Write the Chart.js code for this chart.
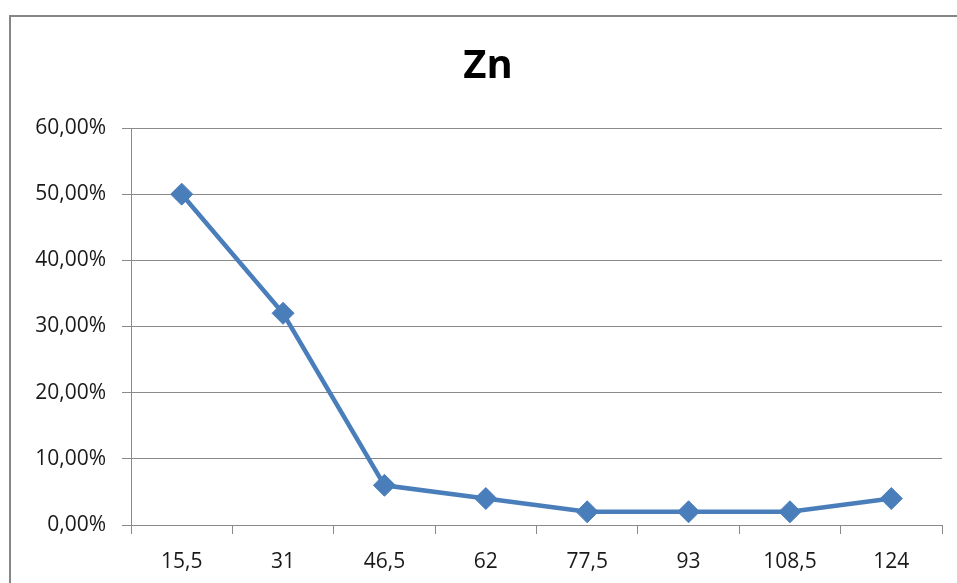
<!DOCTYPE html>
<html>
<head>
<meta charset="utf-8">
<script src="https://cdn.jsdelivr.net/npm/chart.js@4.4.0/dist/chart.umd.min.js"></script>
<style>
    html, body { margin: 0; padding: 0; background: #fff; overflow: hidden; }
    #frame {
        position: absolute; left: 9px; top: 15px;
        width: 1000px; height: 700px;
        border-top: 2px solid #868686; border-left: 2px solid #868686;
    }
    #wrap { position: absolute; left: 0; top: 0; width: 957px; height: 583px; }
</style>
</head>
<body>
<div id="frame"></div>
<div id="wrap"><canvas id="lineChart"></canvas></div>
<script>
// chart data
var chartTitle = 'Zn';
var categories = ['15,5', '31', '46,5', '62', '77,5', '93', '108,5', '124'];
var zincValues = [50, 32, 6, 4, 2, 2, 2, 4];
var yTicks = [0, 10, 20, 30, 40, 50, 60];

var blue = '#4a7ebb';
var gray = '#8a8a8a';
var labelFont = { family: "'Open Sans', sans-serif", size: 21, lineHeight: 1.0 };

function formatPercent(v) {
    return v.toFixed(2).replace('.', ',') + '%';
}

// title drawn by hand so it sits where the original puts it
var titlePlugin = {
    id: 'titleText',
    afterDraw: function (chart) {
        var c = chart.ctx;
        c.save();
        c.font = "bold 40px 'Open Sans', sans-serif";
        c.fillStyle = '#000';
        c.textAlign = 'center';
        c.textBaseline = 'middle';
        c.fillText(chartTitle, 488, 67);
        c.restore();
    }
};

var ctx = document.getElementById('lineChart').getContext('2d');
var myChart = new Chart(ctx, {
    type: 'line',
    data: {
        labels: categories,
        datasets: [{
            label: chartTitle,
            data: zincValues,
            borderColor: blue,
            backgroundColor: blue,
            borderWidth: 4.5,
            pointStyle: 'rectRot',
            pointRadius: 11,
            pointBorderWidth: 1,
            pointBackgroundColor: blue,
            pointBorderColor: blue,
            tension: 0
        }]
    },
    plugins: [titlePlugin],
    options: {
        responsive: true,
        maintainAspectRatio: false,
        animation: false,
        layout: {
            padding: { left: 0, right: 15, top: 128, bottom: 0 }
        },
        plugins: {
            legend: { display: false },
            tooltip: { enabled: false },
            title: { display: false }
        },
        scales: {
            x: {
                offset: true,
                afterFit: function (scale) { scale.height = 58; },
                grid: {
                    offset: true,
                    drawOnChartArea: false,
                    drawTicks: true,
                    tickLength: 9,
                    color: gray
                },
                border: { color: gray, width: 1 },
                ticks: {
                    color: '#1a1a1a',
                    font: labelFont,
                    padding: 18,
                    maxRotation: 0,
                    autoSkip: false
                }
            },
            y: {
                min: 0,
                max: 60,
                afterFit: function (scale) { scale.width = 131; },
                afterBuildTicks: function (scale) {
                    scale.ticks = yTicks.map(function (v) { return { value: v }; });
                },
                grid: {
                    color: gray,
                    tickLength: 9,
                    drawTicks: true
                },
                border: { color: gray, width: 1 },
                ticks: {
                    color: '#1a1a1a',
                    font: labelFont,
                    padding: 16,
                    callback: function (value) { return formatPercent(value); }
                }
            }
        }
    }
});
</script>
</body>
</html>
